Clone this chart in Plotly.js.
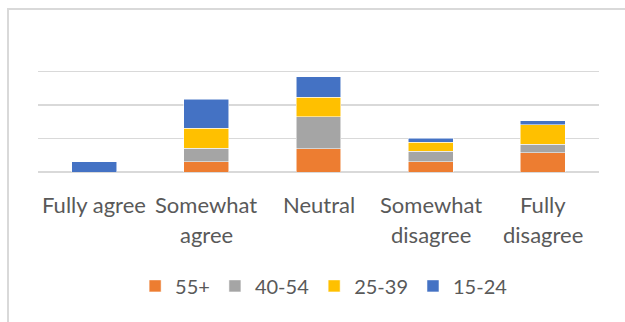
<!DOCTYPE html>
<html>
<head>
<meta charset="utf-8">
<script src="https://cdn.plot.ly/plotly-3.0.1.min.js"></script>
<style>
  html, body { margin: 0; padding: 0; background: #ffffff; }
  #wrap { position: relative; width: 625px; height: 322px; overflow: hidden; }
  #chart { position: absolute; left: 0; top: 0; width: 625px; height: 322px; }
  #frame { position: absolute; left: 7px; top: 8px; width: 700px; height: 400px;
           border-top: 2px solid #d9d9d9; border-left: 2px solid #d9d9d9; pointer-events: none; }
</style>
</head>
<body>
<div id="wrap">
  <div id="chart"></div>
  <div id="frame"></div>
</div>
<script>
const categories = ["Fully agree", "Somewhat agree", "Neutral", "Somewhat disagree", "Fully disagree"];
const categoryLines = [["Fully agree"], ["Somewhat", "agree"], ["Neutral"], ["Somewhat", "disagree"], ["Fully", "disagree"]];
const seriesNames = ["55+", "40-54", "25-39", "15-24"];
const age55plus = [0, 3.0, 6.9, 3.0, 5.7];
const age40to54 = [0, 4.1, 9.6, 3.2, 2.6];
const age25to39 = [0, 6.0, 5.8, 2.7, 5.8];
const age15to24 = [3.0, 8.6, 6.2, 1.2, 1.2];
const seriesColors = ["#ED7D31", "#A5A5A5", "#FFC000", "#4472C4"];

const seriesValues = [age55plus, age40to54, age25to39, age15to24];
const FONT = "Lato, 'Open Sans', sans-serif";
const FSIZE = 22;

const traces = seriesValues.map((vals, i) => ({
  type: "bar",
  name: seriesNames[i],
  x: categories,
  y: vals,
  marker: { color: seriesColors[i], line: { color: "rgba(255,255,255,0.7)", width: 0.75 } },
  hoverinfo: "x+y+name"
}));

const annotations = [];
categoryLines.forEach((lines, ci) => {
  lines.forEach((t, li) => {
    annotations.push({
      x: categories[ci], xref: "x",
      y: 0, yref: "y",
      text: t, showarrow: false,
      xanchor: "center", yanchor: "middle",
      yshift: -32 - li * 30,
      font: { family: FONT, size: FSIZE, color: "#595959" }
    });
  });
});

const layout = {
  width: 625, height: 322,
  margin: { l: 38, r: 26, t: 38, b: 150, pad: 0 },
  paper_bgcolor: "#ffffff", plot_bgcolor: "#ffffff",
  barmode: "stack",
  bargap: 0.6,
  showlegend: true,
  legend: {
    orientation: "h", x: 0.51, xanchor: "center", y: -0.85, yanchor: "middle",
    traceorder: "normal",
    font: { family: FONT, size: 20, color: "#595959" },
    itemwidth: 30
  },
  xaxis: {
    type: "category",
    showticklabels: false, ticks: "",
    showgrid: false, zeroline: false, showline: false,
    fixedrange: true
  },
  yaxis: {
    range: [0, 40], dtick: 10, tick0: 0,
    showticklabels: false, ticks: "",
    showgrid: true, gridcolor: "#d9d9d9", gridwidth: 1.5,
    zeroline: true, zerolinecolor: "#d9d9d9", zerolinewidth: 1.5,
    showline: false, fixedrange: true
  },
  annotations: annotations,
  font: { family: FONT, color: "#595959" }
};

Plotly.newPlot("chart", traces, layout, { displayModeBar: false, staticPlot: true });
</script>
</body>
</html>
